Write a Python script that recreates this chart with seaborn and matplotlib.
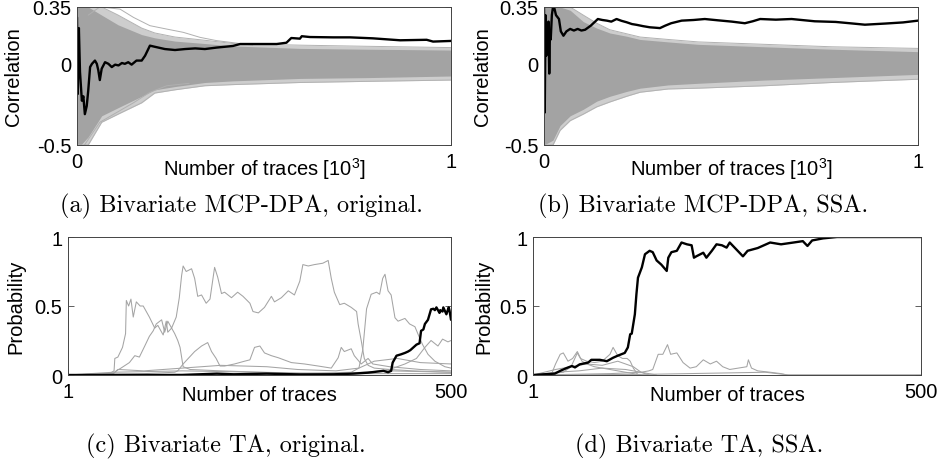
import matplotlib
matplotlib.use("Agg")
import matplotlib.pyplot as plt
import seaborn as sns
import numpy as np

# ---------------- data ----------------
# (a) MCP-DPA original: band of wrong-key correlations (envelopes) + correct key
band_x_a = [0, 0.01, 0.03, 0.066, 0.11, 0.173, 0.208, 0.262, 0.342, 0.417, 0.596, 0.775, 1.0]
outer_hi_a = [0.35, 0.35, 0.35, 0.35, 0.30, 0.22, 0.19, 0.165, 0.145, 0.125, 0.115, 0.108, 0.10]
core_hi_a = [0.35, 0.35, 0.35, 0.30, 0.24, 0.18, 0.16, 0.14, 0.125, 0.11, 0.095, 0.09, 0.085]
core_lo_a = [-0.5, -0.5, -0.45, -0.32, -0.27, -0.20, -0.16, -0.14, -0.115, -0.105, -0.09, -0.085, -0.075]
outer_lo_a = [-0.5, -0.5, -0.5, -0.36, -0.31, -0.24, -0.18, -0.16, -0.135, -0.128, -0.115, -0.108, -0.10]
out1_x_a = [0.03, 0.061, 0.115, 0.151, 0.195, 0.240, 0.284, 0.329, 0.373, 0.418, 0.47]
out1_y_a = [0.30, 0.35, 0.337, 0.286, 0.235, 0.214, 0.194, 0.163, 0.143, 0.13, 0.115]
out2_x_a = [0.02, 0.061, 0.106, 0.151, 0.195, 0.240, 0.30]
out2_y_a = [-0.5, -0.36, -0.30, -0.24, -0.175, -0.135, -0.12]
key_x_a = [0, 0.002, 0.005, 0.008, 0.013, 0.017, 0.021, 0.026, 0.030, 0.035, 0.040, 0.044,
           0.048, 0.053, 0.057, 0.061, 0.066, 0.075, 0.084, 0.093, 0.102, 0.111, 0.12, 0.128,
           0.137, 0.146, 0.159, 0.173, 0.182, 0.195, 0.208, 0.235, 0.262, 0.289, 0.316, 0.342,
           0.373, 0.417, 0.436, 0.471, 0.534, 0.56, 0.573, 0.596, 0.601, 0.623, 0.685, 0.73,
           0.791, 0.864, 0.935, 0.952, 1.0]
key_y_a = [0.286, -0.186, 0.22, -0.05, -0.227, -0.20, -0.31, -0.26, -0.166, -0.02, 0.0, 0.01,
           0.02, 0.0, -0.04, -0.10, -0.03, 0.01, 0.0, -0.02, -0.005, -0.01, 0.005, 0.0,
           0.01, -0.005, 0.02, 0.02, 0.05, 0.112, 0.105, 0.091, 0.085, 0.091, 0.095, 0.091,
           0.10, 0.11, 0.122, 0.122, 0.122, 0.13, 0.159, 0.155, 0.17, 0.165, 0.163, 0.163,
           0.157, 0.145, 0.148, 0.137, 0.141]

# (b) MCP-DPA SSA
band_x_b = [0, 0.024, 0.043, 0.07, 0.105, 0.141, 0.176, 0.221, 0.257, 0.332, 0.412, 0.59, 0.769, 1.0]
outer_hi_b = [0.35, 0.35, 0.35, 0.35, 0.30, 0.25, 0.21, 0.185, 0.165, 0.15, 0.135, 0.12, 0.105, 0.095]
core_hi_b = [0.35, 0.35, 0.35, 0.33, 0.26, 0.22, 0.19, 0.17, 0.15, 0.135, 0.12, 0.105, 0.09, 0.075]
core_lo_b = [-0.5, -0.47, -0.38, -0.32, -0.28, -0.23, -0.20, -0.17, -0.15, -0.13, -0.12, -0.10, -0.085, -0.065]
outer_lo_b = [-0.5, -0.5, -0.41, -0.35, -0.31, -0.265, -0.235, -0.20, -0.175, -0.155, -0.15, -0.135, -0.115, -0.095]
key_x_b = [0, 0.002, 0.004, 0.006, 0.008, 0.010, 0.012, 0.014, 0.016, 0.018, 0.021, 0.024,
           0.028, 0.032, 0.040, 0.045, 0.052, 0.06, 0.07, 0.08, 0.09, 0.10, 0.11, 0.125,
           0.144, 0.156, 0.168, 0.18, 0.194, 0.207, 0.221, 0.235, 0.248, 0.265, 0.283, 0.30,
           0.31, 0.324, 0.34, 0.368, 0.40, 0.43, 0.465, 0.502, 0.537, 0.558, 0.578, 0.62,
           0.662, 0.724, 0.78, 0.822, 0.858, 0.912, 0.96, 1.0]
key_y_b = [0.35, -0.3, 0.3, 0.05, 0.25, 0.18, 0.26, -0.06, 0.20, 0.15, 0.30, 0.35,
           0.34, 0.30, 0.276, 0.20, 0.173, 0.20, 0.215, 0.205, 0.215, 0.205, 0.21, 0.235,
           0.276, 0.27, 0.266, 0.26, 0.276, 0.265, 0.256, 0.245, 0.24, 0.232, 0.225, 0.222,
           0.22, 0.235, 0.25, 0.266, 0.27, 0.276, 0.268, 0.26, 0.25, 0.262, 0.276, 0.272,
           0.276, 0.262, 0.258, 0.249, 0.241, 0.248, 0.255, 0.266]

# (c) TA original: probabilities of key candidates
c1_x = [1, 55, 61, 62, 66, 72, 76, 77, 80, 83, 86, 90, 95, 99, 103, 107, 114, 118, 125, 129,
        131, 136, 140, 144, 147, 151, 160, 200, 250, 300, 500]
c1_y = [0, 0.01, 0.03, 0.12, 0.13, 0.20, 0.30, 0.54, 0.50, 0.55, 0.42, 0.53, 0.50, 0.50, 0.46,
        0.42, 0.34, 0.36, 0.29, 0.39, 0.31, 0.34, 0.30, 0.25, 0.20, 0.06, 0.04, 0.03, 0.02, 0.01, 0.01]
c2_x = [1, 60, 64, 70, 81, 88, 94, 101, 107, 112, 116, 123, 127, 131, 136, 142, 146, 149, 151,
        155, 162, 166, 170, 175, 181, 186, 192, 196, 201, 205, 214, 222, 229, 238, 242, 249, 257,
        266, 270, 279, 288, 296, 303, 307, 314, 322, 333, 340, 344, 348, 355, 361, 370, 377, 379,
        383, 387, 392, 400, 420, 450, 500]
c2_y = [0, 0.01, 0.03, 0.05, 0.09, 0.14, 0.13, 0.21, 0.28, 0.32, 0.37, 0.40, 0.31, 0.39, 0.34,
        0.42, 0.56, 0.72, 0.79, 0.75, 0.77, 0.70, 0.57, 0.58, 0.52, 0.55, 0.78, 0.71, 0.59, 0.60,
        0.56, 0.60, 0.57, 0.52, 0.46, 0.45, 0.49, 0.57, 0.53, 0.56, 0.61, 0.58, 0.68, 0.80, 0.79,
        0.80, 0.81, 0.83, 0.70, 0.60, 0.51, 0.52, 0.49, 0.46, 0.37, 0.25, 0.12, 0.07, 0.05, 0.04,
        0.03, 0.02]
c3_x = [1, 300, 370, 380, 385, 390, 396, 403, 407, 411, 414, 418, 422, 427, 431, 440, 446, 453,
        459, 463, 470, 479, 492, 500]
c3_y = [0, 0.01, 0.02, 0.05, 0.18, 0.48, 0.585, 0.60, 0.585, 0.70, 0.73, 0.61, 0.58, 0.415, 0.39,
        0.41, 0.37, 0.35, 0.27, 0.22, 0.15, 0.10, 0.06, 0.05]
c4_x = [1, 100, 140, 144, 151, 166, 175, 183, 188, 194, 199, 205, 218, 231, 238, 244, 251, 257,
        266, 275, 292, 309, 327, 344, 353, 357, 361, 370, 374, 383, 392, 398, 420, 460, 500]
c4_y = [0, 0.01, 0.02, 0.03, 0.08, 0.17, 0.21, 0.235, 0.17, 0.12, 0.065, 0.065, 0.08, 0.10, 0.11,
        0.20, 0.21, 0.16, 0.14, 0.125, 0.09, 0.08, 0.065, 0.05, 0.125, 0.20, 0.17, 0.19, 0.14,
        0.08, 0.12, 0.08, 0.06, 0.04, 0.03]
c5_x = [1, 380, 420, 440, 455, 466, 474, 483, 489, 496, 500]
c5_y = [0, 0.01, 0.04, 0.08, 0.12, 0.20, 0.25, 0.21, 0.26, 0.24, 0.25]
c6_x = [1, 60, 66, 100, 150, 200, 260, 300, 350, 380, 400, 430, 460, 500]
c6_y = [0, 0.01, 0.04, 0.03, 0.05, 0.07, 0.06, 0.04, 0.03, 0.05, 0.10, 0.12, 0.09, 0.08]
c7_x = [1, 60, 150, 250, 350, 420, 500]
c7_y = [0, 0.02, 0.03, 0.02, 0.01, 0.03, 0.02]
key_x_c = [1, 150, 195, 217, 260, 303, 347, 373, 392, 412, 418, 422, 424, 427, 429, 435, 440,
           444, 447, 453, 455, 459, 461, 464, 466, 470, 474, 477, 479, 481, 485, 486, 489, 490,
           494, 497, 498, 500]
key_y_c = [0, 0, 0.01, 0.005, 0.01, 0.004, 0.005, 0.01, 0.017, 0.03, 0.02, 0.03, 0.09, 0.12,
           0.14, 0.15, 0.16, 0.17, 0.18, 0.21, 0.22, 0.23, 0.32, 0.33, 0.37, 0.40, 0.476, 0.48,
           0.47, 0.49, 0.45, 0.47, 0.46, 0.49, 0.44, 0.49, 0.47, 0.40]

# (d) TA SSA
d1_x = [1, 25, 30, 36, 40, 46, 52, 58, 64, 70, 80, 90, 100, 110, 120, 130, 140]
d1_y = [0, 0.01, 0.08, 0.15, 0.16, 0.10, 0.12, 0.17, 0.10, 0.08, 0.06, 0.05, 0.04, 0.03, 0.02, 0.01, 0]
d2_x = [1, 40, 50, 58, 62, 70, 80, 90, 100, 104, 110, 116, 122, 126, 130, 136]
d2_y = [0, 0.02, 0.06, 0.16, 0.12, 0.10, 0.09, 0.10, 0.15, 0.20, 0.14, 0.12, 0.12, 0.10, 0.05, 0]
d3_x = [1, 100, 140, 150, 155, 162, 168, 174, 178, 186, 194, 203, 211, 220, 229, 237, 245, 254,
        265, 276, 278, 282, 290, 306, 320, 328, 500]
d3_y = [0, 0.01, 0.02, 0.03, 0.04, 0.15, 0.15, 0.22, 0.15, 0.16, 0.09, 0.05, 0.06, 0.11, 0.08,
        0.10, 0.06, 0.04, 0.05, 0.06, 0.11, 0.05, 0.03, 0.02, 0.01, 0, 0]
d4_x = [1, 30, 50, 70, 90, 110, 130, 140, 150]
d4_y = [0, 0.04, 0.06, 0.08, 0.07, 0.10, 0.06, 0.02, 0]
d5_x = [1, 30, 60, 90, 120, 140, 160]
d5_y = [0, 0.02, 0.03, 0.05, 0.04, 0.02, 0]
d6_x = [1, 150, 200, 250, 300, 330, 500]
d6_y = [0, 0.005, 0.01, 0.015, 0.02, 0.0, 0]
key_x_d = [1, 29, 36, 44, 51, 55, 61, 72, 76, 87, 96, 104, 110, 119, 123, 126, 128, 132, 134, 136,
           141, 145, 151, 155, 160, 166, 173, 175, 179, 186, 192, 199, 205, 208, 211, 220, 224,
           231, 237, 244, 250, 254, 271, 277, 290, 306, 320, 336, 348, 354, 360, 374, 392, 500]
key_y_d = [0, 0.01, 0.03, 0.05, 0.065, 0.055, 0.077, 0.09, 0.11, 0.11, 0.10, 0.125, 0.14, 0.16,
           0.20, 0.295, 0.30, 0.44, 0.585, 0.705, 0.78, 0.875, 0.90, 0.89, 0.83, 0.80, 0.754, 0.85,
           0.89, 0.90, 0.96, 0.947, 0.94, 0.85, 0.86, 0.886, 0.85, 0.90, 0.947, 0.94, 0.923, 0.96,
           0.86, 0.90, 0.92, 0.96, 0.947, 0.96, 0.97, 0.935, 0.975, 0.99, 1.0, 1.0]

corr_ticks = [-0.5, 0, 0.35]
corr_ticklabels = ["-0.5", "0", "0.35"]
corr_xticks = [0, 1]
corr_xticklabels = ["0", "1"]
prob_ticks = [0, 0.5, 1]
prob_ticklabels = ["0", "0.5", "1"]
prob_xticks = [1, 500]
prob_xticklabels = ["1", "500"]
captions = ["(a) Bivariate MCP-DPA, original.", "(b) Bivariate MCP-DPA, SSA.",
            "(c) Bivariate TA, original.", "(d) Bivariate TA, SSA."]

# ---------------- styling ----------------
sns.set_theme(style="white")
plt.rcParams["font.family"] = ["Liberation Sans", "DejaVu Sans"]
plt.rcParams["axes.unicode_minus"] = False
plt.rcParams["mathtext.fontset"] = "custom"
plt.rcParams["mathtext.rm"] = "Liberation Sans"
plt.rcParams["mathtext.it"] = "Liberation Sans:italic"
plt.rcParams["mathtext.bf"] = "Liberation Sans:bold"

FS = 14.5
GRAY = "#a4a4a4"
W, H = 939, 460
fig = plt.figure(figsize=(W / 100, H / 100), dpi=100)


def make_ax(l, t, r, b):
    return fig.add_axes([l / W, 1 - b / H, (r - l) / W, (b - t) / H])


def style(ax, xt, xtl, yt, ytl, xlim, ylim, ylab, ylab_x):
    ax.set_xlim(*xlim)
    ax.set_ylim(*ylim)
    ax.set_xticks(xt)
    ax.set_xticklabels(xtl)
    ax.set_yticks(yt)
    ax.set_yticklabels(ytl)
    for s in ax.spines.values():
        s.set_color("#444444")
        s.set_linewidth(0.7)
        s.set_visible(True)
    ax.tick_params(direction="in", length=4, width=0.6, color="#444444",
                   labelsize=FS, top=True, right=True, bottom=True, left=True,
                   labelcolor="black")
    ax.tick_params(axis="x", pad=5)
    ax.tick_params(axis="y", pad=4)
    ax.set_ylabel(ylab, fontsize=FS, color="black")
    ax.yaxis.set_label_coords(ylab_x, 0.5)
    ax.set_xlabel("", fontsize=FS)
    ax.set_facecolor("white")


def gline(ax, x, y, color=GRAY, lw=0.75):
    sns.lineplot(x=x, y=y, ax=ax, color=color, linewidth=lw, estimator=None,
                 sort=False, legend=False)


def band(ax, bx, olo, ohi, clo, chi):
    ax.fill_between(bx, olo, ohi, color="#cdcdcd", lw=0)
    ax.fill_between(bx, clo, chi, color="#a3a3a3", lw=0)
    gline(ax, bx, ohi, "#b2b2b2", 0.7)
    gline(ax, bx, olo, "#b2b2b2", 0.7)


# (a)
axa = make_ax(77, 8, 451, 146)
band(axa, band_x_a, outer_lo_a, outer_hi_a, core_lo_a, core_hi_a)
gline(axa, out1_x_a, out1_y_a, "#b0b0b0", 0.7)
gline(axa, out2_x_a, out2_y_a, "#b0b0b0", 0.7)
gline(axa, key_x_a, key_y_a, "black", 1.7)
style(axa, corr_xticks, corr_xticklabels, corr_ticks, corr_ticklabels, (0, 1), (-0.5, 0.35),
      "Correlation", -0.144)

# (b)
axb = make_ax(544, 8, 918, 146)
band(axb, band_x_b, outer_lo_b, outer_hi_b, core_lo_b, core_hi_b)
gline(axb, key_x_b, key_y_b, "black", 1.7)
style(axb, corr_xticks, corr_xticklabels, corr_ticks, corr_ticklabels, (0, 1), (-0.5, 0.35),
      "Correlation", -0.139)

# (c)
axc = make_ax(68, 238, 451, 376)
for xs, ys in [(c7_x, c7_y), (c6_x, c6_y), (c5_x, c5_y), (c4_x, c4_y), (c3_x, c3_y),
               (c1_x, c1_y), (c2_x, c2_y)]:
    gline(axc, xs, ys)
gline(axc, key_x_c, key_y_c, "black", 1.7)
style(axc, prob_xticks, prob_xticklabels, prob_ticks, prob_ticklabels, (1, 500), (0, 1),
      "Probability", -0.112)

# (d)
axd = make_ax(533, 238, 921, 376)
for xs, ys in [(d6_x, d6_y), (d5_x, d5_y), (d4_x, d4_y), (d3_x, d3_y), (d2_x, d2_y),
               (d1_x, d1_y)]:
    gline(axd, xs, ys)
gline(axd, key_x_d, key_y_d, "black", 1.7)
style(axd, prob_xticks, prob_xticklabels, prob_ticks, prob_ticklabels, (1, 500), (0, 1),
      "Probability", -0.103)

# x labels placed at the tick-label level (MATLAB-like)
for ax, lab in [(axa, "Number of traces [10$^3$]"), (axb, "Number of traces [10$^3$]"),
                (axc, "Number of traces"), (axd, "Number of traces")]:
    ax.text(0.5, -0.075, lab, transform=ax.transAxes, ha="center", va="top",
            fontsize=FS, color="black")

# captions
cap_pos = [(241, 212), (703, 212), (226, 452), (699, 452)]
for (cx, cy), cap in zip(cap_pos, captions):
    fig.text(cx / W, 1 - cy / H, cap, ha="center", va="baseline", fontsize=17.5,
             family="cmr10", color="black")

fig.savefig("out.png", dpi=100)
